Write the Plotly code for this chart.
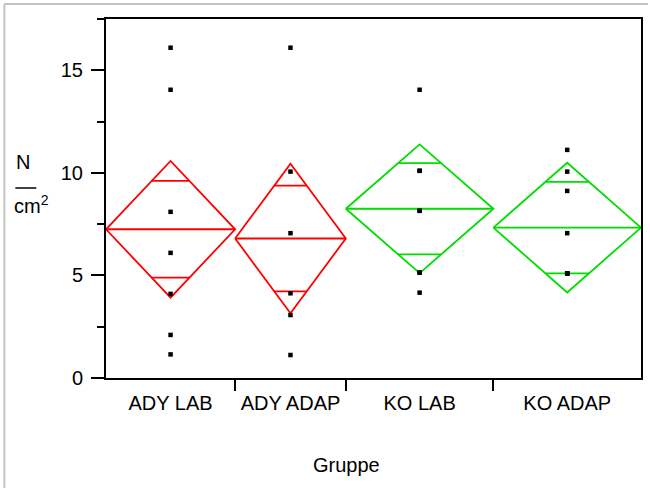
import math
import plotly.graph_objects as go

# ---- data ----
groups = ["ADY LAB", "ADY ADAP", "KO LAB", "KO ADAP"]
group_n = [7, 6, 8, 8]
group_means = [7.25, 6.80, 8.25, 7.33]
group_ci_half = [3.33, 3.64, 3.14, 3.16]
group_colors = ["#ff0000", "#ff0000", "#00dd00", "#00dd00"]

ady_lab = [16.1, 14.05, 8.1, 6.1, 4.1, 2.1, 1.15]
ady_adap = [16.1, 10.06, 7.06, 4.13, 3.07, 1.12]
ko_lab = [14.05, 10.1, 10.1, 8.15, 8.15, 5.14, 5.14, 4.16]
ko_adap = [11.12, 10.06, 9.12, 7.06, 5.1, 5.1, 5.1, 5.1]
values = [ady_lab, ady_adap, ko_lab, ko_adap]

y_ticks = [0, 5, 10, 15]

# ---- layout helpers ----
W, H = 650, 488
ML, MR, MT, MB = 106, 7, 19, 110
PW, PH = W - ML - MR, H - MT - MB
FONT = "Liberation Sans, Arial, sans-serif"


def px_x(p):
    return (p - ML) / PW


def px_y(p):
    return (H - MB - p) / PH


bounds = [0]
for n in group_n:
    bounds.append(bounds[-1] + n)
centers = [(bounds[i] + bounds[i + 1]) / 2 for i in range(len(groups))]

fig = go.Figure()

for i, g in enumerate(groups):
    left, right, c = bounds[i], bounds[i + 1], centers[i]
    m, ci = group_means[i], group_ci_half[i]
    hw = (right - left) / 2
    d = ci / math.sqrt(2)
    ow = hw * (1 - d / ci)
    xs = [left, c, right, c, left, None, left, right, None,
          c - ow, c + ow, None, c - ow, c + ow]
    ys = [m, m + ci, m, m - ci, m, None, m, m, None,
          m + d, m + d, None, m - d, m - d]
    fig.add_trace(go.Scatter(x=xs, y=ys, mode="lines",
                             line=dict(color=group_colors[i], width=1.8),
                             hoverinfo="skip", showlegend=False))

for i, g in enumerate(groups):
    fig.add_trace(go.Scatter(x=[centers[i]] * len(values[i]), y=values[i],
                             mode="markers", name=g,
                             marker=dict(symbol="square", size=4.5, color="black",
                                         line=dict(width=0)),
                             showlegend=False))

fig.update_layout(
    width=W, height=H,
    margin=dict(l=ML, r=MR, t=MT, b=MB),
    paper_bgcolor="white", plot_bgcolor="white",
    font=dict(family=FONT, size=20, color="black"),
    xaxis=dict(range=[0, bounds[-1]], tickvals=centers, ticktext=groups,
               ticks="outside", ticklen=0, tickcolor="black",
               ticklabelstandoff=6,
               minor=dict(tickvals=bounds[1:-1], ticks="outside", ticklen=11,
                          tickwidth=2, tickcolor="black"),
               showgrid=False, zeroline=False, showline=True, linecolor="black",
               linewidth=2, mirror=True, fixedrange=True),
    yaxis=dict(range=[0, 17.5], tickvals=y_ticks, ticks="outside", ticklen=13,
               tickwidth=2, tickcolor="black", ticklabelstandoff=4,
               minor=dict(dtick=2.5, ticks="outside", ticklen=7, tickwidth=2,
                          tickcolor="black", showgrid=False),
               showgrid=False, zeroline=False, showline=True, linecolor="black",
               linewidth=2, mirror=True, fixedrange=True),
)

# y-axis title (stacked fraction)
fig.add_annotation(text="N", xref="paper", yref="paper", x=px_x(14), y=px_y(162),
                   xanchor="left", yanchor="middle", showarrow=False,
                   font=dict(family=FONT, size=20))
fig.add_shape(type="line", xref="paper", yref="paper", x0=px_x(15), x1=px_x(36),
              y0=px_y(188), y1=px_y(188), line=dict(color="black", width=1.5))
fig.add_annotation(text="cm<sup>2</sup>", xref="paper", yref="paper", x=px_x(12),
                   y=px_y(204), xanchor="left", yanchor="middle", showarrow=False,
                   font=dict(family=FONT, size=20))
# x-axis title
fig.add_annotation(text="Gruppe", xref="paper", yref="paper", x=px_x(347.5),
                   y=px_y(465), xanchor="center", yanchor="middle", showarrow=False,
                   font=dict(family=FONT, size=20))
# light outer frame (top and left edges)
fig.add_shape(type="line", xref="paper", yref="paper", x0=px_x(4), x1=px_x(W),
              y0=px_y(4), y1=px_y(4), line=dict(color="#c4c4bc", width=2))
fig.add_shape(type="line", xref="paper", yref="paper", x0=px_x(4), x1=px_x(4),
              y0=px_y(4), y1=px_y(H), line=dict(color="#c4c4bc", width=2))

fig.write_html("out.html")
